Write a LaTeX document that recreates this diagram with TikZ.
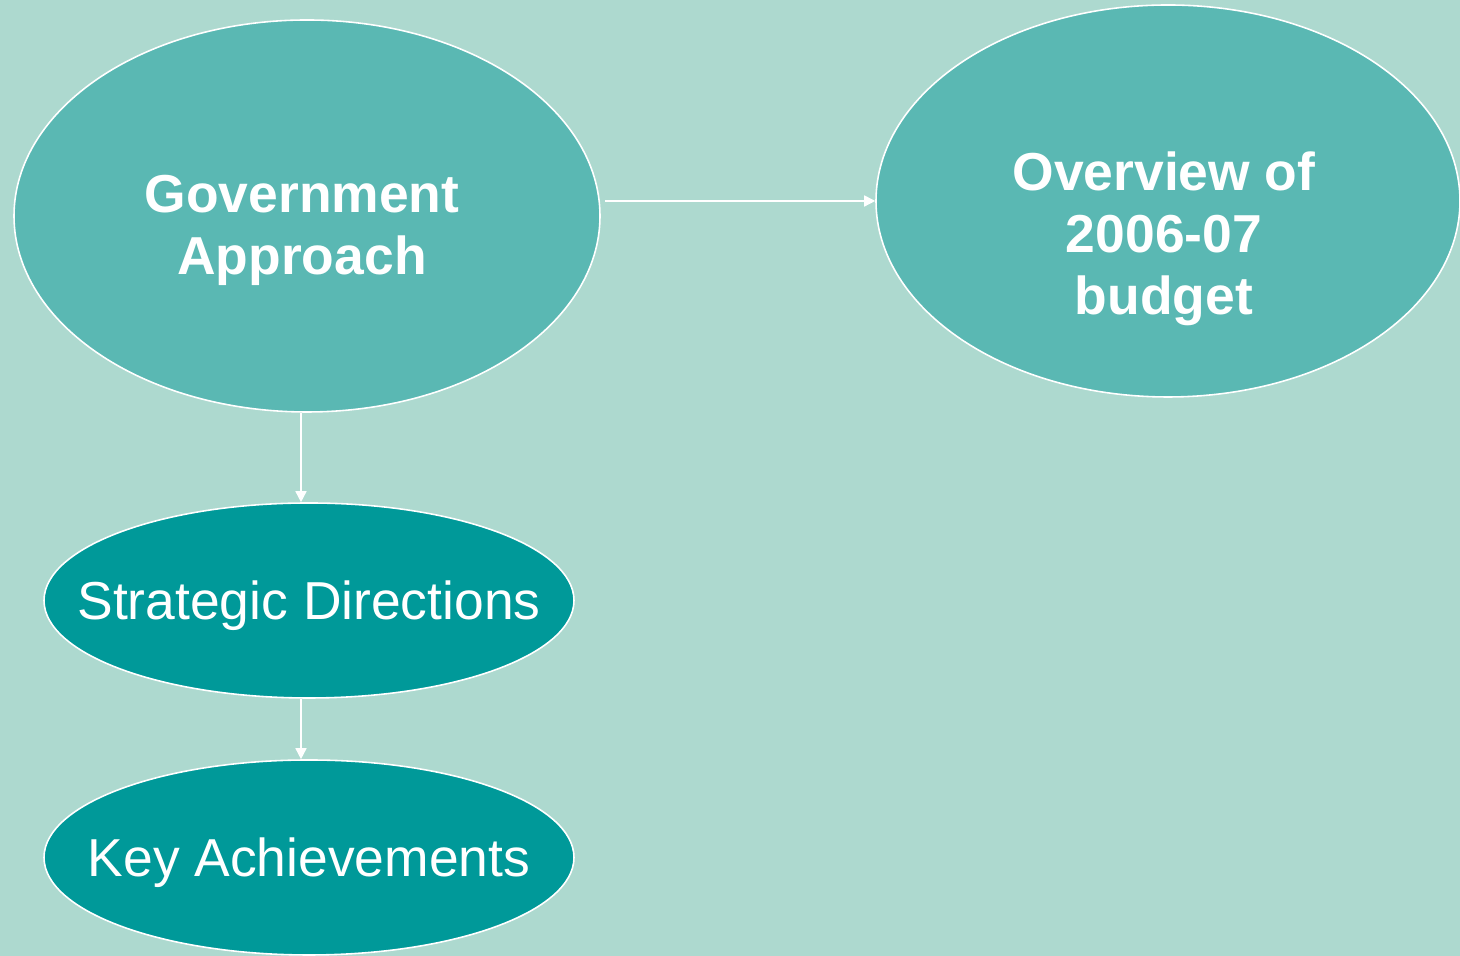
\documentclass[tikz,border=0pt]{standalone}
\usepackage{fontspec}
\setmainfont{Liberation Sans}
\usetikzlibrary{shapes.geometric,arrows.meta}
\definecolor{bgteal}{HTML}{ADD9CF}
\definecolor{lightteal}{HTML}{5AB8B3}
\definecolor{darkteal}{HTML}{009999}
\begin{document}
\begin{tikzpicture}[
  topic/.style = {shape=ellipse, draw=white, line width=0.45pt,
    fill=lightteal, inner sep=0pt, minimum width=5.86cm, minimum height=3.92cm},
  subtopic/.style = {shape=ellipse, draw=white, line width=0.45pt,
    fill=darkteal, inner sep=0pt, minimum width=5.30cm, minimum height=1.95cm},
  topictext/.style = {text=white, align=center, inner sep=0pt,
    font=\fontsize{15.2}{17.6}\selectfont\bfseries},
  subtext/.style = {text=white, inner sep=0pt,
    font=\fontsize{15.2}{17.6}\selectfont},
  flow/.style = {draw=white, line width=0.45pt, -{Triangle[length=1.1mm,width=1.1mm]}}]
  \fill[bgteal] (0,0) rectangle (14.6,9.56);
  \useasboundingbox (0,0) rectangle (14.6,9.56);
  \node[topic, label={[topictext,xshift=-0.05cm,yshift=-0.14cm,name=govtext]center:Government\\Approach}]
    (gov) at (3.07,7.40) {};
  \node[topic, minimum width=5.84cm, label={[topictext,xshift=-0.04cm,yshift=-0.38cm,name=ovrtext]center:Overview of\\2006-07\\budget}]
    (ovr) at (11.68,7.55) {};
  \node[subtopic, label={[subtext,yshift=-0.05cm,name=strattext]center:Strategic Directions}]
    (strat) at (3.09,3.555) {};
  \node[subtopic, label={[subtext,yshift=-0.05cm,name=keytext]center:Key Achievements}]
    (key) at (3.09,0.985) {};
  \draw[flow] ([xshift=0.04cm]gov.east |- ovr.west) -- (ovr.west);
  \draw[flow] ([xshift=-0.06cm]gov.south) -- ([xshift=-0.06cm]gov.south |- strat.north);
  \draw[flow] ([xshift=-0.08cm]strat.south) -- ([xshift=-0.08cm]strat.south |- key.north);
\end{tikzpicture}
\end{document}
